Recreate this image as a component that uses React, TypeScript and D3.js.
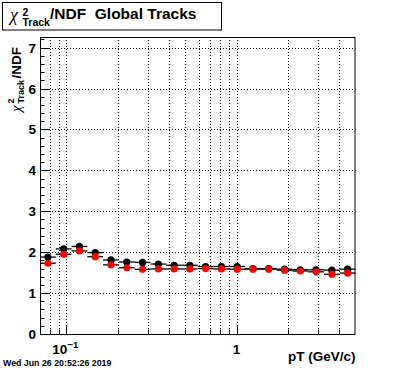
import React, { useEffect, useRef } from 'react';
import * as d3 from 'd3';

const W = 396;
const H = 372;

// log bins in pT (GeV/c)
const binEdges = [
  0.07, 0.08666, 0.10727, 0.1328, 0.1644, 0.20351, 0.25194, 0.3119, 0.38611, 0.47797,
  0.59172, 0.73252, 0.90659, 1.1222, 1.3893, 1.7199, 2.1291, 2.6357, 3.2628, 4.0391, 5.0,
];
// chi2/NDF per bin
const blackVals = [
  1.88, 2.08, 2.14, 1.99, 1.81, 1.76, 1.75, 1.71, 1.68, 1.68,
  1.65, 1.65, 1.65, 1.6, 1.6, 1.585, 1.57, 1.57, 1.56, 1.585,
];
const redVals = [
  1.73, 1.95, 2.03, 1.89, 1.69, 1.62, 1.58, 1.59, 1.59, 1.59,
  1.6, 1.59, 1.585, 1.585, 1.585, 1.56, 1.54, 1.52, 1.46, 1.49,
];
const xGridVals = [0.08, 0.09, 0.1, 0.2, 0.3, 0.4, 0.5, 0.6, 0.7, 0.8, 0.9, 1, 2, 3, 4];
const xMajor = [0.1, 1];
const yMajor = [0, 1, 2, 3, 4, 5, 6, 7];
const stamp = 'Wed Jun 26 20:52:26 2019';

const FONT = "'Liberation Sans', Arial, Helvetica, sans-serif";
const SERIF = "'Liberation Serif', 'DejaVu Serif', serif";

const App = () => {
  const svgRef = useRef<SVGSVGElement>(null);

  useEffect(() => {
    const svg = d3.select(svgRef.current);
    svg.selectAll('*').remove();

    const left = 40, right = 355.5, top = 37, bottom = 334;
    const x = d3.scaleLog().domain([0.07, 5]).range([left, right]);
    const y = d3.scaleLinear().domain([0, 7.26]).range([bottom, top]);

    svg.append('rect').attr('width', W).attr('height', H).attr('fill', '#fff');

    // grid
    const grid = svg.append('g').attr('stroke', '#000').attr('stroke-width', 1)
      .attr('stroke-dasharray', '1,2');
    grid.selectAll('.gx').data(xGridVals).enter().append('line')
      .attr('x1', d => Math.round(x(d)) + 0.5).attr('x2', d => Math.round(x(d)) + 0.5)
      .attr('y1', top).attr('y2', bottom);
    grid.selectAll('.gy').data(yMajor.slice(1)).enter().append('line')
      .attr('y1', d => Math.round(y(d)) + 0.5).attr('y2', d => Math.round(y(d)) + 0.5)
      .attr('x1', left).attr('x2', right);

    // frame
    svg.append('rect')
      .attr('x', left + 0.5).attr('y', top + 0.5)
      .attr('width', right - left - 1).attr('height', bottom - top)
      .attr('fill', 'none').attr('stroke', '#000');

    // y ticks
    const yMinor = d3.range(0, 7.25, 0.2);
    svg.append('g').selectAll('line').data(yMinor).enter().append('line')
      .attr('x1', left).attr('x2', d => left + (Math.abs(d - Math.round(d)) < 1e-6 ? 9 : 4.5))
      .attr('y1', d => Math.round(y(d)) + 0.5).attr('y2', d => Math.round(y(d)) + 0.5)
      .attr('stroke', '#000');
    svg.append('g').selectAll('text').data(yMajor).enter().append('text')
      .attr('x', 36).attr('y', d => y(d) + 5)
      .attr('text-anchor', 'end').attr('font-family', FONT).attr('font-weight', 'bold')
      .attr('font-size', 13.5).text(d => d);

    // x ticks
    svg.append('g').selectAll('line').data(xGridVals).enter().append('line')
      .attr('x1', d => Math.round(x(d)) + 0.5).attr('x2', d => Math.round(x(d)) + 0.5)
      .attr('y1', bottom).attr('y2', d => bottom - (xMajor.includes(d) ? 9 : 4.5))
      .attr('stroke', '#000');
    const tenth = svg.append('text').attr('x', x(0.1) - 14).attr('y', 354)
      .attr('font-family', FONT).attr('font-weight', 'bold').attr('font-size', 13.5);
    tenth.append('tspan').text('10');
    tenth.append('tspan').attr('dy', -6).attr('font-size', 9.5).text('\u22121');
    svg.append('text').attr('x', x(1)).attr('y', 354).attr('text-anchor', 'middle')
      .attr('font-family', FONT).attr('font-weight', 'bold').attr('font-size', 13.5).text('1');

    // axis titles
    svg.append('text').attr('x', right).attr('y', 361).attr('text-anchor', 'end')
      .attr('font-family', FONT).attr('font-weight', 'bold').attr('font-size', 13.5)
      .text('pT (GeV/c)');

    const yt = svg.append('g').attr('transform', 'translate(21,112) rotate(-90)');
    yt.append('text').attr('x', 0).attr('y', 0).attr('font-family', SERIF)
      .attr('font-style', 'italic').attr('font-size', 15).text('\u03c7');
    yt.append('text').attr('x', 8.5).attr('y', -7).attr('font-family', FONT).attr('font-weight', 'bold')
      .attr('font-size', 9).text('2');
    yt.append('text').attr('x', 8.5).attr('y', 3).attr('font-family', FONT).attr('font-weight', 'bold')
      .attr('font-size', 9).text('Track');
    yt.append('text').attr('x', 33.5).attr('y', 0).attr('font-family', FONT).attr('font-weight', 'bold')
      .attr('font-size', 13.5).text('/NDF');

    // data
    const bins = binEdges.slice(0, -1).map((lo, i) => ({ lo, hi: binEdges[i + 1], c: Math.sqrt(lo * binEdges[i + 1]) }));
    const drawSeries = (vals: number[], color: string) => {
      const g = svg.append('g');
      g.selectAll('line').data(vals).enter().append('line')
        .attr('x1', (_, i) => x(bins[i].lo)).attr('x2', (_, i) => x(bins[i].hi))
        .attr('y1', d => y(d)).attr('y2', d => y(d))
        .attr('stroke', '#000').attr('stroke-width', 1.3);
      g.selectAll('circle').data(vals).enter().append('circle')
        .attr('cx', (_, i) => x(bins[i].c)).attr('cy', d => y(d))
        .attr('r', 3.6).attr('fill', color);
    };
    drawSeries(blackVals, '#000');
    drawSeries(redVals, '#ff0000');

    // title box
    svg.append('rect').attr('x', 2.5).attr('y', 2.5).attr('width', 219).attr('height', 27.5)
      .attr('fill', '#fff').attr('stroke', '#000');
    svg.append('text').attr('x', 10).attr('y', 21).attr('font-family', SERIF)
      .attr('font-style', 'italic').attr('font-size', 18).text('\u03c7');
    svg.append('text').attr('x', 22.5).attr('y', 15.5).attr('font-family', FONT).attr('font-weight', 'bold')
      .attr('font-size', 10.5).text('2');
    svg.append('text').attr('x', 22.5).attr('y', 26).attr('font-family', FONT).attr('font-weight', 'bold')
      .attr('font-size', 10.5).text('Track');
    svg.append('text').attr('x', 50).attr('y', 19).attr('font-family', FONT).attr('font-weight', 'bold')
      .attr('font-size', 15.5).attr('xml:space', 'preserve').text('/NDF  Global Tracks');

    // date stamp
    svg.append('text').attr('x', 3).attr('y', 366).attr('font-family', FONT).attr('font-weight', 'bold')
      .attr('font-size', 8.8).text(stamp);
  }, []);

  return (
    <svg ref={svgRef} width={W} height={H}
      style={{ position: 'absolute', left: 0, top: 0, display: 'block' }} />
  );
};

export default App;
